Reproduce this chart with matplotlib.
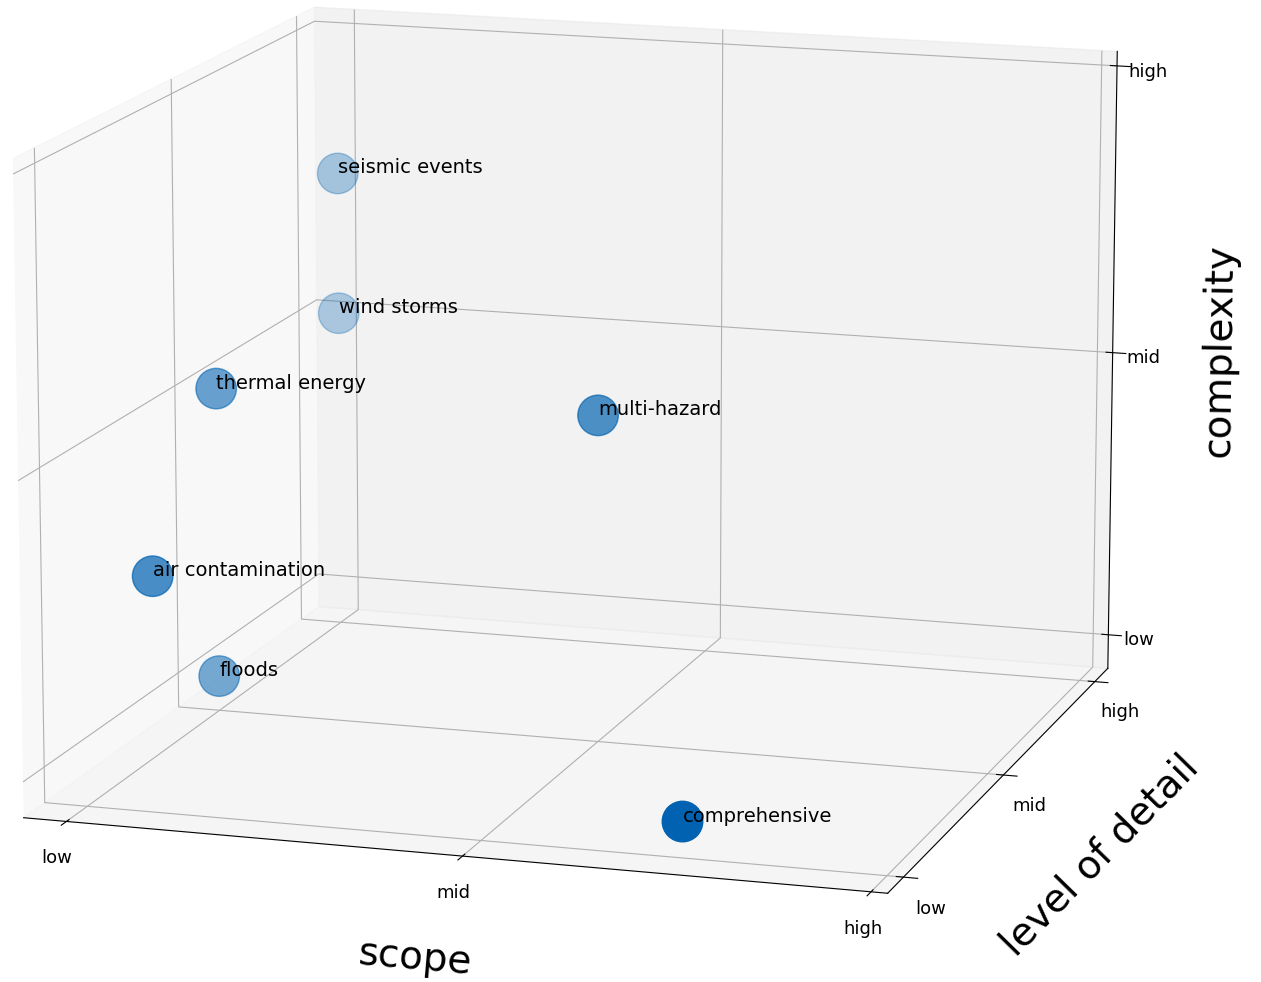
import matplotlib

matplotlib.use("Agg")
import matplotlib.pyplot as plt

# hazard model families placed on a low / mid / high scale
names = [
    "floods",
    "seismic events",
    "wind storms",
    "thermal energy",
    "air contamination",
    "multi-hazard",
    "comprehensive",
]
scope = [1.0, 1.0, 1.0, 1.0, 1.0, 2.0, 2.5]
detail = [2.0, 3.0, 3.0, 2.0, 1.5, 2.0, 1.0]
complexity = [1.0, 2.5, 2.0, 2.0, 1.5, 2.0, 1.0]

levels = [1, 2, 3]
level_names = ["low", "mid", "high"]


def main():
    fig = plt.figure(figsize=(12.61, 9.82), dpi=100)
    ax = fig.add_axes([-0.047, 0.054, 1, 1], projection="3d")

    ax.scatter(scope, detail, complexity, s=850, color="#0062b0")
    for n, x, y, z in zip(names, scope, detail, complexity):
        ax.text(x, y, z, n, fontsize=14)

    ax.set_xlim(0.89, 3.04)
    ax.set_ylim(0.85, 3.15)
    ax.set_zlim(0.88, 3.05)
    for axis in (ax.xaxis, ax.yaxis, ax.zaxis):
        axis.set_ticks(levels)
        axis.set_ticklabels(level_names, fontsize=13)
    ax.tick_params(axis="z", pad=3)

    ax.set_xlabel("scope", fontsize=28, labelpad=21)
    ax.set_ylabel("level of detail", fontsize=28, labelpad=21)
    ax.set_zlabel("complexity", fontsize=28, labelpad=18)

    ax.view_init(elev=13, azim=-72.6)
    ax.set_proj_type("persp", focal_length=1.5)
    ax.set_box_aspect(None, zoom=1.38)

    fig.savefig("out.png", dpi=100)
    plt.close(fig)


if __name__ == "__main__":
    main()
